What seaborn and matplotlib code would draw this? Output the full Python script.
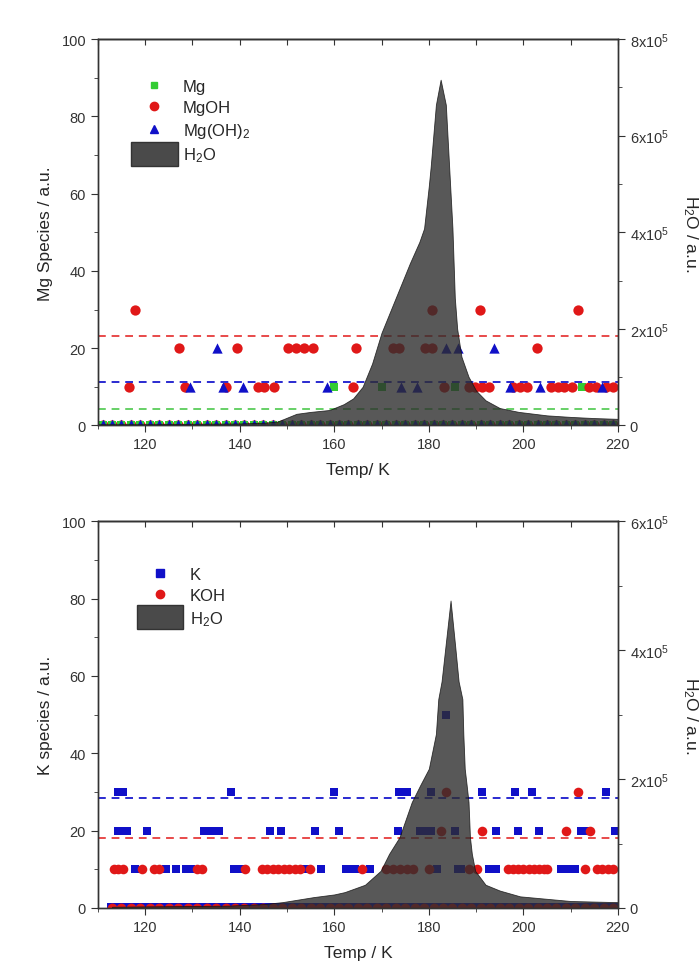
import matplotlib
matplotlib.use('Agg')
import matplotlib.pyplot as plt
import seaborn as sns
from matplotlib.lines import Line2D
from matplotlib.patches import Patch, Rectangle
from matplotlib.legend_handler import HandlerPatch
from matplotlib.ticker import MultipleLocator, FuncFormatter

# Данные: верхняя панель (Mg)

h2o_mg_temp = [110, 120, 130, 140, 145, 148, 150, 152, 155, 159, 162, 164, 166, 168, 170,
               172, 174, 176, 178, 179, 180, 180.4, 181.5, 182.5, 183.6, 184.3, 185, 185.5,
               186, 186.9, 188.4, 190, 192, 195, 199, 205, 210, 215, 220]
h2o_mg = [2400, 2400, 3200, 4000, 5600, 8000, 16000, 24000, 28000, 32000, 44000, 56000,
          80000, 128000, 192000, 240000, 288000, 336000, 380000, 408000, 496000, 536000,
          664000, 716000, 664000, 536000, 408000, 264000, 200000, 142400, 100800, 72000,
          52000, 36000, 28000, 20800, 17600, 15200, 13600]

zero_temp_mg = [111, 113, 115, 117, 119, 121, 123, 125, 127, 129, 131, 133, 135, 137, 139,
                141, 143, 145, 147, 149, 151, 153, 155, 157, 159, 161, 163, 165, 167, 169,
                171, 173, 175, 177, 179, 181, 183, 185, 187, 189, 191, 193, 195, 197, 199,
                201, 203, 205, 207, 209, 211, 213, 215, 217, 219]

mg_temp = [160, 170.2, 185.5, 212.4]
mg_val = [10, 10, 10, 10]

mgoh_temp = [117.8, 180.6, 190.9, 211.5,
             127.1, 139.5, 150.2, 151.9, 153.5, 155.5, 164.7, 172.4, 173.8, 179.3, 180.7, 202.9,
             116.6, 128.4, 137.1, 143.9, 145.1, 147.3, 164, 183.3, 188.4, 189.8, 191.3, 192.7,
             197.8, 199.3, 200.7, 205.8, 207.3, 208.7, 210.2, 213.8, 215.3, 217.5, 218.9]
mgoh_val = [30, 30, 30, 30,
            20, 20, 20, 20, 20, 20, 20, 20, 20, 20, 20, 20,
            10, 10, 10, 10, 10, 10, 10, 10, 10, 10, 10, 10,
            10, 10, 10, 10, 10, 10, 10, 10, 10, 10, 10]

mgoh2_temp = [135.1, 183.6, 186.2, 193.8,
              129.5, 136.4, 140.6, 158.5, 174.2, 177.5, 197.1, 203.6, 216.7]
mgoh2_val = [20, 20, 20, 20,
             10, 10, 10, 10, 10, 10, 10, 10, 10]

mean_mg = 4.3
mean_mgoh = 23.2
mean_mgoh2 = 11.3

# Данные: нижняя панель (K)

h2o_k_temp = [113, 120, 130, 137.5, 145, 149, 155.6, 160, 162.2, 166.5, 169.8, 171.6, 173.8,
              176.4, 178.2, 180, 181.5, 182, 182.7, 183.5, 184.6, 185.6, 186.3, 187.1, 187.3,
              187.6, 188, 188.4, 188.7, 189.1, 189.8, 192, 195, 199.3, 210, 220]
h2o_k = [1800, 2400, 3000, 3600, 6000, 9000, 16800, 21000, 24600, 36000, 57600, 84000,
         109800, 164400, 190800, 216000, 270000, 324000, 351600, 404400, 477000, 404400,
         351600, 324000, 270000, 216000, 190800, 164400, 109800, 84000, 57600, 36000,
         27000, 18000, 10800, 9000]

zero_temp_k = [113, 115, 117, 119, 121, 123, 125, 127, 129, 131, 133, 135, 137, 139, 141,
               143, 145, 147, 149, 151, 153, 155, 157, 159, 161, 163, 165, 167, 169, 171,
               173, 175, 177, 179, 181, 183, 185, 187, 189, 191, 193, 195, 197, 199, 201,
               203, 205, 207, 209, 211, 213, 215, 217, 219]

k_temp = [183.6,
          114.2, 115.3, 138.2, 160, 173.8, 175.3, 180.4, 191.3, 198.2, 201.8, 217.5,
          114.2, 115.3, 116.2, 120.4, 132.4, 133.5, 134.5, 135.6, 146.5, 148.7, 156, 161.1,
          173.5, 178.2, 179.3, 180.4, 185.5, 194.2, 198.9, 203.3, 212.2, 213.3, 219.3,
          117.8, 124.4, 126.5, 128.7, 129.8, 138.9, 140, 153.8, 157.1, 162.5, 163.6, 164.4,
          167.6, 181.8, 186.2, 186.9, 192.7, 194.2, 208, 209.1, 210.2, 210.9]
k_val = [50,
         30, 30, 30, 30, 30, 30, 30, 30, 30, 30, 30,
         20, 20, 20, 20, 20, 20, 20, 20, 20, 20, 20, 20,
         20, 20, 20, 20, 20, 20, 20, 20, 20, 20, 20,
         10, 10, 10, 10, 10, 10, 10, 10, 10, 10, 10, 10,
         10, 10, 10, 10, 10, 10, 10, 10, 10, 10]

koh_temp = [183.6, 211.6,
            182.5, 191.3, 209.1, 214.2,
            113.5, 114.3, 115.3, 119.3, 121.8, 122.9, 130.9, 132, 141.1, 144.7, 145.8, 147,
            148.2, 149.3, 150.5, 151.6, 152.7, 154.9, 165.8, 170.9, 172.4, 174, 175.3, 176.7,
            180, 188.4, 190.2, 196.7, 197.8, 198.9, 200, 201.1, 202.2, 203.3, 204.4, 205.1,
            213.1, 215.6, 216.7, 217.8, 218.9]
koh_val = [30, 30,
           20, 20, 20, 20,
           10, 10, 10, 10, 10, 10, 10, 10, 10, 10, 10, 10,
           10, 10, 10, 10, 10, 10, 10, 10, 10, 10, 10, 10,
           10, 10, 10, 10, 10, 10, 10, 10, 10, 10, 10, 10,
           10, 10, 10, 10, 10]

mean_k = 28.5
mean_koh = 18.2

# Стиль

sns.set_style('ticks')
plt.rcParams['font.family'] = ['Liberation Sans', 'DejaVu Sans']
plt.rcParams['mathtext.fontset'] = 'custom'
plt.rcParams['mathtext.rm'] = 'Liberation Sans'
plt.rcParams['mathtext.it'] = 'Liberation Sans:italic'
plt.rcParams['axes.edgecolor'] = '#333333'
plt.rcParams['axes.linewidth'] = 1.0

GREEN = '#33cc33'
RED = '#e01818'
BLUE = '#1010c8'
FILL = '#2e2e2e'

fig = plt.figure(figsize=(6.99, 9.78), dpi=100)
ax_top = fig.add_axes([0.140, 0.564, 0.744, 0.395])
ax_bot = fig.add_axes([0.140, 0.0706, 0.744, 0.3954])


def big_patch(legend, orig_handle, xdescent, ydescent, width, height, fontsize):
    return Rectangle((-xdescent, -ydescent - 0.5 * height), width, height * 2.0)


def h2o_fmt(v, pos):
    if v == 0:
        return '0'
    return r'%dx10$^{\mathregular{5}}$' % round(v / 1e5)


def style_axes(ax, ax2, right_max, xlabel, ylabel):
    ax.set_xlim(110, 220)
    ax.set_ylim(0, 100)
    ax.xaxis.set_major_locator(MultipleLocator(20))
    ax.xaxis.set_minor_locator(MultipleLocator(10))
    ax.yaxis.set_major_locator(MultipleLocator(20))
    ax.yaxis.set_minor_locator(MultipleLocator(10))
    ax.tick_params(which='both', direction='out', colors='#333333', labelsize=10.5)
    ax.tick_params(which='major', length=5)
    ax.tick_params(which='minor', length=3)
    ax.set_xlabel(xlabel, fontsize=12.5, labelpad=8)
    ax.set_ylabel(ylabel, fontsize=12.5, labelpad=6)

    top = ax.secondary_xaxis('top')
    top.xaxis.set_major_locator(MultipleLocator(10))
    top.tick_params(direction='in', length=4, labeltop=False, colors='#333333')

    ax2.set_ylim(0, right_max)
    ax2.yaxis.set_major_locator(MultipleLocator(2e5))
    ax2.yaxis.set_minor_locator(MultipleLocator(1e5))
    ax2.yaxis.set_major_formatter(FuncFormatter(h2o_fmt))
    ax2.tick_params(which='both', direction='out', colors='#333333', labelsize=10.5)
    ax2.tick_params(which='major', length=5)
    ax2.tick_params(which='minor', length=3)
    ax2.set_ylabel('H$_2$O / a.u.', fontsize=12.5, rotation=270, labelpad=22)
    for s in ax2.spines.values():
        s.set_color('#333333')


# Верхняя панель

ax = ax_top
ax.axhline(mean_mg, color='#66d066', ls=(0, (4, 3)), lw=1.4)
ax.axhline(mean_mgoh, color='#e84a4a', ls=(0, (4, 3)), lw=1.4)
ax.axhline(mean_mgoh2, color='#2a2ad0', ls=(0, (4, 3)), lw=1.4)

sns.scatterplot(x=zero_temp_mg, y=[0] * len(zero_temp_mg), marker='o', color=RED,
                s=55, linewidth=0, ax=ax)
sns.scatterplot(x=zero_temp_mg, y=[0] * len(zero_temp_mg), marker='s', color=GREEN,
                s=35, linewidth=0, ax=ax)
sns.scatterplot(x=zero_temp_mg, y=[0] * len(zero_temp_mg), marker='^', color=BLUE,
                s=70, linewidth=0, ax=ax)
sns.scatterplot(x=mg_temp, y=mg_val, marker='s', color=GREEN, s=30, linewidth=0, ax=ax)
sns.scatterplot(x=mgoh_temp, y=mgoh_val, marker='o', color=RED, s=55, linewidth=0, ax=ax)
sns.scatterplot(x=mgoh2_temp, y=mgoh2_val, marker='^', color=BLUE, s=55, linewidth=0, ax=ax)

ax2 = ax.twinx()
ax2.fill_between(h2o_mg_temp, h2o_mg, 0, color=FILL, alpha=0.8, lw=0.6, edgecolor='#111111')
style_axes(ax, ax2, 8e5, 'Temp/ K', 'Mg Species / a.u.')

handles = [
    Line2D([], [], ls='none', marker='s', color=GREEN, markersize=5),
    Line2D([], [], ls='none', marker='o', color=RED, markersize=6),
    Line2D([], [], ls='none', marker='^', color=BLUE, markersize=6),
    Patch(facecolor='#4a4a4a', edgecolor='#333333'),
]
labels = ['Mg', 'MgOH', 'Mg(OH)$_2$', 'H$_2$O']
ax2.legend(handles, labels, loc='upper left', bbox_to_anchor=(0.035, 0.935),
           frameon=False, fontsize=12, handlelength=2.8, handletextpad=0.3,
           labelspacing=0.35, handler_map={Patch: HandlerPatch(patch_func=big_patch)})

# Нижняя панель

ax = ax_bot
ax.axhline(mean_k, color='#2a2ad0', ls=(0, (4, 3)), lw=1.4)
ax.axhline(mean_koh, color='#e84a4a', ls=(0, (4, 3)), lw=1.4)

sns.scatterplot(x=zero_temp_k, y=[0] * len(zero_temp_k), marker='s', color=BLUE,
                s=45, linewidth=0, ax=ax)
sns.scatterplot(x=zero_temp_k, y=[0] * len(zero_temp_k), marker='o', color=RED,
                s=50, linewidth=0, ax=ax)
sns.scatterplot(x=k_temp, y=k_val, marker='s', color=BLUE, s=40, linewidth=0, ax=ax)
sns.scatterplot(x=koh_temp, y=koh_val, marker='o', color=RED, s=48, linewidth=0, ax=ax)

ax2 = ax.twinx()
ax2.fill_between(h2o_k_temp, h2o_k, 0, color=FILL, alpha=0.8, lw=0.6, edgecolor='#111111')
style_axes(ax, ax2, 6e5, 'Temp / K', 'K species / a.u.')

handles = [
    Line2D([], [], ls='none', marker='s', color=BLUE, markersize=5.5),
    Line2D([], [], ls='none', marker='o', color=RED, markersize=6),
    Patch(facecolor='#4a4a4a', edgecolor='#333333'),
]
labels = ['K', 'KOH', 'H$_2$O']
ax2.legend(handles, labels, loc='upper left', bbox_to_anchor=(0.046, 0.92),
           frameon=False, fontsize=12, handlelength=2.8, handletextpad=0.4,
           labelspacing=0.35, handler_map={Patch: HandlerPatch(patch_func=big_patch)})

plt.savefig('out.png', dpi=100)
plt.close()
